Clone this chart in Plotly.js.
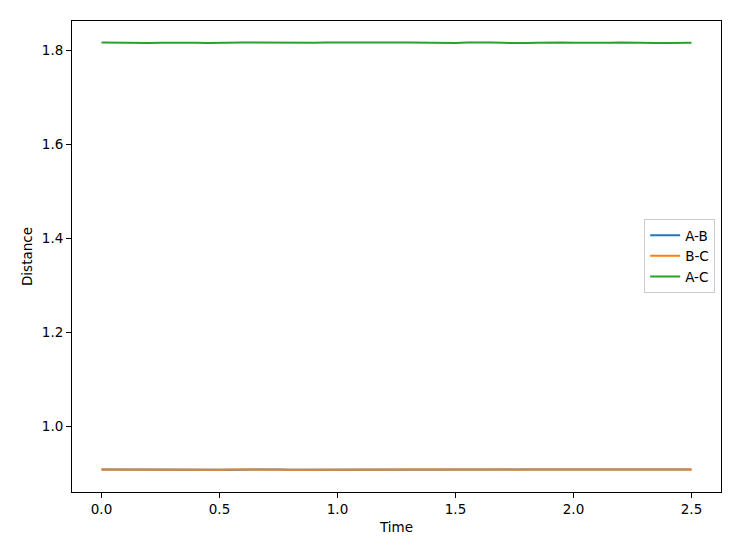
<!DOCTYPE html>
<html>
<head>
<meta charset="utf-8">
<script src="https://cdn.plot.ly/plotly-3.0.1.min.js"></script>
<style>html,body{margin:0;padding:0;background:#fff;}#chart{width:754px;height:545px;}</style>
</head>
<body>
<div id="chart"></div>
<script>
const time = [0.00,0.05,0.10,0.15,0.20,0.25,0.30,0.35,0.40,0.45,0.50,0.55,0.60,0.65,0.70,0.75,0.80,0.85,0.90,0.95,1.00,1.05,1.10,1.15,1.20,1.25,1.30,1.35,1.40,1.45,1.50,1.55,1.60,1.65,1.70,1.75,1.80,1.85,1.90,1.95,2.00,2.05,2.10,2.15,2.20,2.25,2.30,2.35,2.40,2.45,2.50];
const distAC = [1.8170,1.8166,1.8160,1.8156,1.8158,1.8164,1.8169,1.8169,1.8164,1.8158,1.8156,1.8159,1.8166,1.8170,1.8167,1.8161,1.8156,1.8157,1.8163,1.8169,1.8168,1.8162,1.8157,1.8156,1.8161,1.8168,1.8169,1.8164,1.8158,1.8156,1.8159,1.8166,1.8170,1.8166,1.8160,1.8156,1.8158,1.8164,1.8169,1.8168,1.8162,1.8157,1.8156,1.8161,1.8168,1.8169,1.8165,1.8159,1.8156,1.8158,1.8164];
const distBC = [0.9086,0.9084,0.9082,0.9081,0.9082,0.9084,0.9086,0.9086,0.9084,0.9082,0.9081,0.9082,0.9085,0.9086,0.9085,0.9083,0.9081,0.9081,0.9083,0.9086,0.9086,0.9084,0.9082,0.9081,0.9083,0.9085,0.9086,0.9084,0.9082,0.9081,0.9082,0.9085,0.9086,0.9085,0.9083,0.9081,0.9082,0.9084,0.9086,0.9086,0.9084,0.9082,0.9081,0.9083,0.9085,0.9086,0.9085,0.9083,0.9081,0.9082,0.9084];
const distAB = [0.9085,0.9083,0.9081,0.9080,0.9081,0.9083,0.9085,0.9085,0.9083,0.9081,0.9080,0.9081,0.9084,0.9085,0.9084,0.9082,0.9080,0.9080,0.9082,0.9085,0.9085,0.9083,0.9081,0.9080,0.9082,0.9084,0.9085,0.9083,0.9081,0.9080,0.9081,0.9084,0.9085,0.9084,0.9082,0.9080,0.9081,0.9083,0.9085,0.9085,0.9083,0.9081,0.9080,0.9082,0.9084,0.9085,0.9084,0.9082,0.9080,0.9081,0.9083];
const seriesNames = ['A-B','B-C','A-C'];
const seriesColors = ['#1f77b4','#ff7f0e','#2ca02c'];
const xTicks = [0.0,0.5,1.0,1.5,2.0,2.5];
const xTickText = ['0.0','0.5','1.0','1.5','2.0','2.5'];
const yTicks = [1.0,1.2,1.4,1.6,1.8];
const yTickText = ['1.0','1.2','1.4','1.6','1.8'];

const ys = [distAB, distBC, distAC];
const traces = ys.map((y,i)=>({
  x: time, y: y, type:'scatter', mode:'lines', name: seriesNames[i],
  line:{color: seriesColors[i], width:2}
}));

const font = {family:'DejaVu Sans', size:13.5, color:'#000'};
const layout = {
  width:754, height:545,
  margin:{l:72, r:33, t:21, b:53},
  paper_bgcolor:'#fff', plot_bgcolor:'#fff',
  font: font,
  showlegend:true,
  xaxis:{
    range:[-0.125,2.625], tickvals:xTicks, ticktext:xTickText,
    ticks:'outside', ticklen:5, tickwidth:1, tickcolor:'#000',
    showgrid:false, zeroline:false, showline:true, linecolor:'#000', linewidth:1, mirror:true,
    title:{text:'Time', font:font, standoff:6}, tickfont:font
  },
  yaxis:{
    range:[0.8605,1.8625], tickvals:yTicks, ticktext:yTickText,
    ticks:'outside', ticklen:5, tickwidth:1, tickcolor:'#000',
    showgrid:false, zeroline:false, showline:true, linecolor:'#000', linewidth:1, mirror:true,
    title:{text:'Distance', font:font, standoff:6}, tickfont:font
  },
  legend:{
    x:0.991, y:0.501, xanchor:'right', yanchor:'middle',
    bgcolor:'rgba(255,255,255,0.8)', bordercolor:'#cccccc', borderwidth:1,
    font:{family:'DejaVu Sans', size:13.5, color:'#000'},
    tracegroupgap:0, itemwidth:30
  }
};
Plotly.newPlot('chart', traces, layout, {displayModeBar:false, staticPlot:true});
</script>
</body>
</html>
